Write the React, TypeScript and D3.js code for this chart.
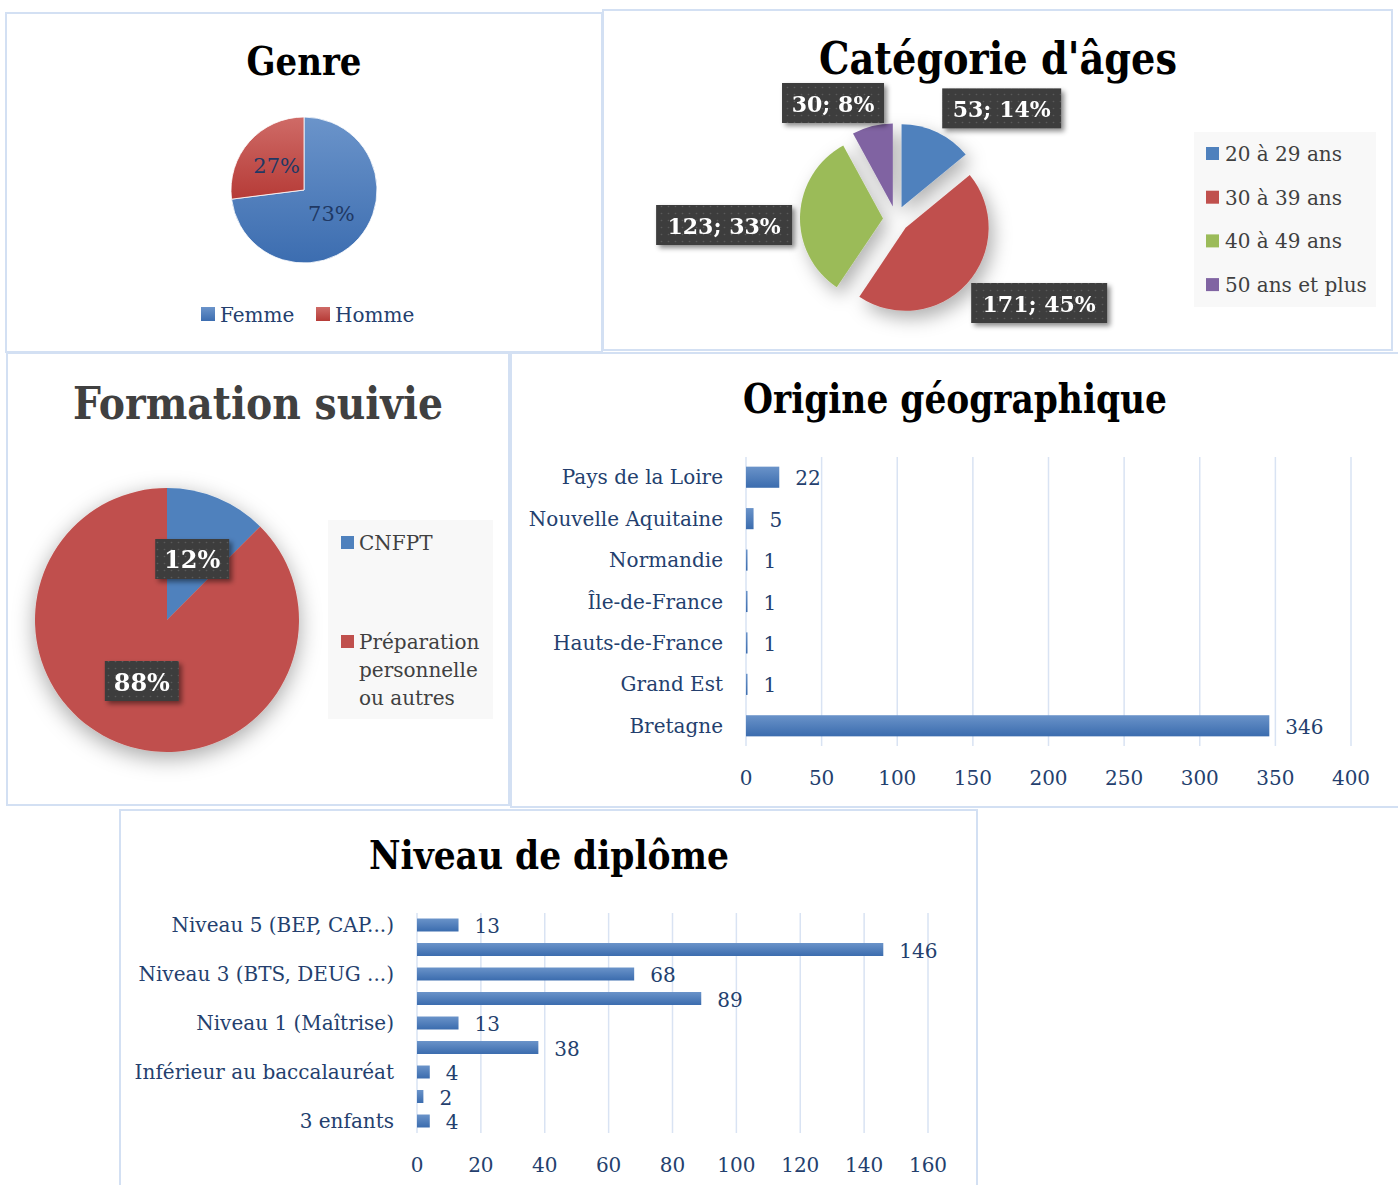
import React from 'react';
import * as d3 from 'd3';

// ---------- DATA ----------
const genreLabels = ['Femme', 'Homme'];
const genreValues = [73, 27];

const ageLabels = ['20 à 29 ans', '30 à 39 ans', '40 à 49 ans', '50 ans et plus'];
const ageValues = [53, 171, 123, 30];

const formationLabels = ['CNFPT', 'Préparation personnelle ou autres'];
const formationValues = [47, 330];

const regionLabels = ['Pays de la Loire', 'Nouvelle Aquitaine', 'Normandie', 'Île-de-France', 'Hauts-de-France', 'Grand Est', 'Bretagne'];
const regionValues = [22, 5, 1, 1, 1, 1, 346];
const regionTicks = [0, 50, 100, 150, 200, 250, 300, 350, 400];

// hidden (alternate) category labels are not displayed in the source chart
const diplomaLabels = ['Niveau 5 (BEP, CAP...)', '', 'Niveau 3 (BTS, DEUG ...)', '', 'Niveau 1 (Maîtrise)', '', 'Inférieur au baccalauréat', '', '3 enfants'];
const diplomaValues = [13, 146, 68, 89, 13, 38, 4, 2, 4];
const diplomaTicks = [0, 20, 40, 60, 80, 100, 120, 140, 160];

// ---------- STYLE ----------
const FONT = '"DejaVu Serif", serif';
const BLUE = '#4f81bd';
const RED = '#c0504d';
const GREEN = '#9bbb59';
const PURPLE = '#8064a2';
const ageColors = [BLUE, RED, GREEN, PURPLE];
const NAVY = '#243f6e';
const DARK = '#404040';
const BORDER = '#d3e0f3';
const GRID = '#d9e3f3';

const deg = Math.PI / 180;

function wrap(text: string, max: number): string[] {
  const words = text.split(' ');
  const lines: string[] = [];
  let cur = '';
  for (const w of words) {
    const t = cur ? cur + ' ' + w : w;
    if (t.length > max && cur) { lines.push(cur); cur = w; } else cur = t;
  }
  if (cur) lines.push(cur);
  return lines;
}

function LabelBox({ cx, cy, text, size, w }: { cx: number; cy: number; text: string; size: number; w: number }) {
  const h = 40;
  return (
    <g filter="url(#boxShadow)">
      <rect x={cx - w / 2} y={cy - h / 2} width={w} height={h} fill="url(#dots)" />
      <text x={cx} y={cy + 1} textAnchor="middle" dominantBaseline="central" fill="#fff" fontWeight="bold" fontSize={size} fontFamily={FONT}>{text}</text>
    </g>
  );
}

function Title({ x, y, text, size, len, color = '#000' }: { x: number; y: number; text: string; size: number; len: number; color?: string }) {
  return (
    <text x={x} y={y} textAnchor="middle" fontFamily={FONT} fontWeight="bold" fontSize={size} fill={color}
      textLength={len} lengthAdjust="spacingAndGlyphs">{text}</text>
  );
}

export default function App() {
  const total = (a: number[]) => d3.sum(a);

  // ---- Genre pie ----
  const gC = { x: 304, y: 190 }, gR = 73;
  const gArcs = d3.pie<number>().sort(null).startAngle(0).endAngle(2 * Math.PI)(genreValues);
  const gArc = d3.arc<d3.PieArcDatum<number>>().innerRadius(0).outerRadius(gR);
  const gTot = total(genreValues);

  // ---- Age pie ----
  const aC = { x: 896, y: 219 }, aR = 83, aExp = 13;
  const aArcs = d3.pie<number>().sort(null)(ageValues);
  const aArc = d3.arc<d3.PieArcDatum<number>>().innerRadius(0).outerRadius(aR);
  const aTot = total(ageValues);
  const ageLabelPolar = [{ a: 43.7, r: 153 }, { a: 120.4, r: 166 }, { a: 268, r: 172 }, { a: 331.5, r: 132 }];

  // ---- Formation pie ----
  const fC = { x: 167, y: 620 }, fR = 132;
  const fArcs = d3.pie<number>().sort(null)(formationValues);
  const fArc = d3.arc<d3.PieArcDatum<number>>().innerRadius(0).outerRadius(fR);
  const fTot = total(formationValues);

  // ---- Origine bars ----
  const rx = d3.scaleLinear().domain([0, 400]).range([746, 1351]);
  const ry = d3.scaleBand<number>().domain(regionValues.map((_, i) => i)).range([456.5, 746.5]).paddingInner(0.49).paddingOuter(0.245);

  // ---- Diplome bars ----
  const dx = d3.scaleLinear().domain([0, 160]).range([417, 928]);
  const dy = d3.scaleBand<number>().domain(diplomaValues.map((_, i) => i)).range([912.75, 1133.25]).paddingInner(0.47).paddingOuter(0.235);

  return (
    <svg width={1398} height={1185} style={{ position: 'absolute', left: 0, top: 0, background: '#fff' }}>
      <defs>
        <linearGradient id="gBlue" x1="0" y1="0" x2="0" y2="1">
          <stop offset="0" stopColor="#6b94ca" />
          <stop offset="1" stopColor="#3c6db0" />
        </linearGradient>
        <linearGradient id="gRed" x1="0" y1="0" x2="0" y2="1">
          <stop offset="0" stopColor="#cf6b67" />
          <stop offset="1" stopColor="#b63b37" />
        </linearGradient>
        <linearGradient id="barGrad" x1="0" y1="0" x2="0" y2="1">
          <stop offset="0" stopColor="#6a93c9" />
          <stop offset="1" stopColor="#3b6cae" />
        </linearGradient>
        <pattern id="dots" width="7" height="7" patternUnits="userSpaceOnUse">
          <rect width="7" height="7" fill="#3e3e3e" />
          <circle cx="3.5" cy="3.5" r="0.8" fill="#5a5a5a" />
        </pattern>
        <filter id="boxShadow" x="-20%" y="-30%" width="150%" height="180%">
          <feDropShadow dx="3" dy="3" stdDeviation="2.5" floodColor="#000" floodOpacity="0.45" />
        </filter>
        <filter id="pieShadow" x="-40%" y="-40%" width="180%" height="180%">
          <feDropShadow dx="5" dy="8" stdDeviation="9" floodColor="#000" floodOpacity="0.3" />
        </filter>
        <filter id="glow" x="-30%" y="-30%" width="160%" height="160%">
          <feDropShadow dx="0" dy="6" stdDeviation="11" floodColor="#000" floodOpacity="0.35" />
        </filter>
      </defs>

      {/* ===== Panel borders ===== */}
      <rect x={6} y={13} width={596} height={339} fill="none" stroke={BORDER} strokeWidth={2} />
      <rect x={603} y={10} width={789} height={340} fill="none" stroke={BORDER} strokeWidth={2} />
      <rect x={7} y={353} width={502} height={452} fill="none" stroke={BORDER} strokeWidth={2} />
      <rect x={511} y={353} width={895} height={454} fill="none" stroke={BORDER} strokeWidth={2} />
      <rect x={120} y={810} width={857} height={400} fill="none" stroke={BORDER} strokeWidth={2} />

      {/* ===== Genre ===== */}
      <Title x={304} y={75} text="Genre" size={40} len={115} />
      <g transform={`translate(${gC.x},${gC.y})`}>
        {gArcs.map((a, i) => (
          <path key={i} d={gArc(a) || ''} fill={i === 0 ? 'url(#gBlue)' : 'url(#gRed)'} stroke="#fff" strokeWidth={0.8} />
        ))}
        {gArcs.map((a, i) => {
          const [cx, cy] = gArc.centroid(a);
          return (
            <text key={'t' + i} x={cx} y={cy} textAnchor="middle" dominantBaseline="central" fontFamily={FONT} fontSize={21} fill="#1f3864">
              {Math.round((a.data / gTot) * 100)}%
            </text>
          );
        })}
      </g>
      {genreLabels.map((l, i) => {
        const x0 = [201, 316][i];
        return (
          <g key={l}>
            <rect x={x0} y={307} width={14} height={14} fill={i === 0 ? 'url(#gBlue)' : 'url(#gRed)'} />
            <text x={x0 + 19} y={315} dominantBaseline="central" fontFamily={FONT} fontSize={20} fill={NAVY}>{l}</text>
          </g>
        );
      })}

      {/* ===== Catégorie d'âges ===== */}
      <Title x={998} y={74} text="Catégorie d'âges" size={44} len={358} />
      <g transform={`translate(${aC.x},${aC.y})`} filter="url(#pieShadow)">
        {aArcs.map((a, i) => {
          const mid = (a.startAngle + a.endAngle) / 2;
          const ox = Math.sin(mid) * aExp, oy = -Math.cos(mid) * aExp;
          return <path key={i} d={aArc(a) || ''} transform={`translate(${ox},${oy})`} fill={ageColors[i]} />;
        })}
      </g>
      {aArcs.map((a, i) => {
        const p = ageLabelPolar[i];
        const cx = aC.x + Math.sin(p.a * deg) * p.r;
        const cy = aC.y - Math.cos(p.a * deg) * p.r;
        const txt = `${a.data}; ${Math.round((a.data / aTot) * 100)}%`;
        return <LabelBox key={i} cx={cx} cy={cy} text={txt} size={22} w={txt.length * 17} />;
      })}
      <rect x={1194} y={132} width={182} height={175} fill="#f8f8f8" />
      {ageLabels.map((l, i) => {
        const yc = 154 + i * 43.7;
        return (
          <g key={l}>
            <rect x={1206} y={yc - 7} width={13} height={13} fill={ageColors[i]} />
            <text x={1225} y={yc} dominantBaseline="central" fontFamily={FONT} fontSize={20} fill={DARK}>{l}</text>
          </g>
        );
      })}

      {/* ===== Formation suivie ===== */}
      <Title x={258} y={419} text="Formation suivie" size={44} len={370} color={DARK} />
      <g transform={`translate(${fC.x},${fC.y})`} filter="url(#glow)">
        {fArcs.map((a, i) => (
          <path key={i} d={fArc(a) || ''} fill={[BLUE, RED][i]} />
        ))}
      </g>
      {fArcs.map((a, i) => {
        const [cx, cy] = fArc.centroid(a);
        const txt = `${Math.round((a.data / fTot) * 100)}%`;
        return <LabelBox key={i} cx={fC.x + cx} cy={fC.y + cy} text={txt} size={24} w={74} />;
      })}
      <rect x={328} y={520} width={165} height={199} fill="#f8f8f8" />
      {formationLabels.map((l, i) => {
        const yc = [543, 642][i];
        const lines = wrap(l, 12);
        return (
          <g key={l}>
            <rect x={341} y={yc - 7} width={13} height={13} fill={[BLUE, RED][i]} />
            {lines.map((ln, j) => (
              <text key={j} x={359} y={yc + j * 28} dominantBaseline="central" fontFamily={FONT} fontSize={20} fill={DARK}>{ln}</text>
            ))}
          </g>
        );
      })}

      {/* ===== Origine géographique ===== */}
      <Title x={955} y={413} text="Origine géographique" size={41} len={424} />
      {regionTicks.map((t) => (
        <g key={t}>
          <line x1={rx(t)} x2={rx(t)} y1={457} y2={746} stroke={GRID} strokeWidth={1.5} />
          <text x={rx(t)} y={778} textAnchor="middle" dominantBaseline="central" fontFamily={FONT} fontSize={20} fill={NAVY}>{t}</text>
        </g>
      ))}
      {regionValues.map((v, i) => (
        <g key={i}>
          <rect x={rx(0)} y={ry(i)!} width={rx(v) - rx(0)} height={ry.bandwidth()} fill="url(#barGrad)" />
          <text x={rx(v) + 16} y={ry(i)! + ry.bandwidth() / 2 + 1} dominantBaseline="central" fontFamily={FONT} fontSize={20} fill={NAVY}>{v}</text>
          <text x={723} y={ry(i)! + ry.bandwidth() / 2} textAnchor="end" dominantBaseline="central" fontFamily={FONT} fontSize={20} fill={NAVY}>{regionLabels[i]}</text>
        </g>
      ))}

      {/* ===== Niveau de diplôme ===== */}
      <Title x={549} y={869} text="Niveau de diplôme" size={40} len={360} />
      {diplomaTicks.map((t) => (
        <g key={t}>
          <line x1={dx(t)} x2={dx(t)} y1={913} y2={1133} stroke={GRID} strokeWidth={1.5} />
          <text x={dx(t)} y={1165} textAnchor="middle" dominantBaseline="central" fontFamily={FONT} fontSize={20} fill={NAVY}>{t}</text>
        </g>
      ))}
      {diplomaValues.map((v, i) => (
        <g key={i}>
          <rect x={dx(0)} y={dy(i)!} width={dx(v) - dx(0)} height={dy.bandwidth()} fill="url(#barGrad)" />
          <text x={dx(v) + 16} y={dy(i)! + dy.bandwidth() / 2 + 1} dominantBaseline="central" fontFamily={FONT} fontSize={20} fill={NAVY}>{v}</text>
          {diplomaLabels[i] && (
            <text x={394} y={dy(i)! + dy.bandwidth() / 2} textAnchor="end" dominantBaseline="central" fontFamily={FONT} fontSize={20} fill={NAVY}>{diplomaLabels[i]}</text>
          )}
        </g>
      ))}
    </svg>
  );
}
